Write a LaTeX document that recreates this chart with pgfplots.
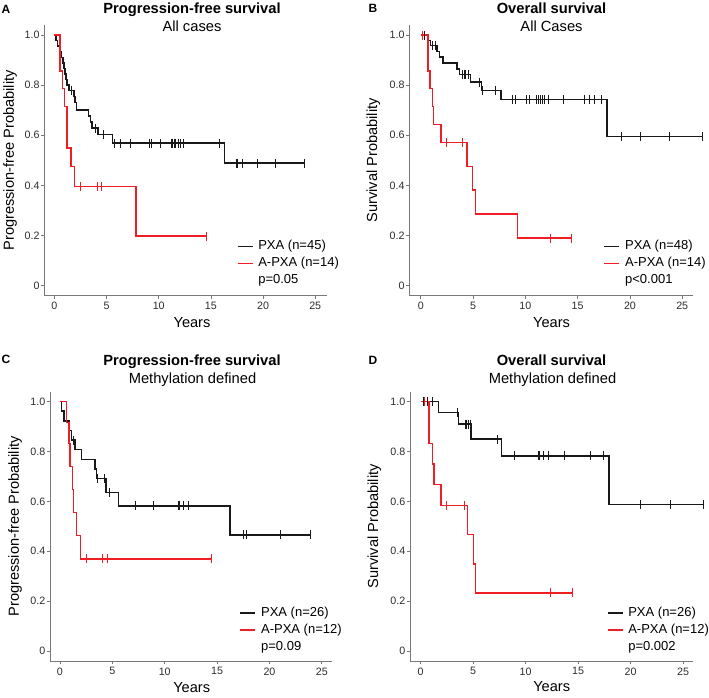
\documentclass[border=0pt]{standalone}
\usepackage{fontspec}
\setmainfont{Liberation Sans}
\usepackage{pgfplots}
\pgfplotsset{compat=1.18}
\definecolor{kmred}{RGB}{240,30,35}
\definecolor{kmblack}{RGB}{25,25,25}
\definecolor{axgray}{RGB}{120,120,120}
\definecolor{txtgray}{RGB}{45,45,45}
\pgfplotsset{
  kmaxis/.style={
    scale only axis,
    axis lines=left,
    axis line style={-, draw=axgray, line width=0.8bp},
    ymin=-0.04, ymax=1.04,
    ytick={0,0.2,0.4,0.6,0.8,1}, yticklabels={0,0.2,0.4,0.6,0.8,1.0},
    xtick={0,5,10,15,20,25},
    tick align=outside,
    major tick length=3bp,
    tick style={draw=axgray, line width=0.8bp},
    /pgf/number format/assume math mode=true,
    ticklabel style={font=\fontsize{10.7bp}{12bp}\selectfont, text=txtgray},
    yticklabel style={inner sep=1.5bp},
    label style={font=\fontsize{14.6bp}{16bp}\selectfont},
    xlabel={Years},
    clip=false,
    legend cell align=left,
    legend style={draw=none, fill=none, inner sep=0pt, font=\fontsize{13bp}{15bp}\selectfont, anchor=north west, row sep=5bp, nodes={inner sep=0pt, text height=9.5bp, text depth=2.5bp}},
    legend image code/.code={\draw[##1] (0bp,0bp) -- (15bp,0bp); \path (20bp,0bp);},
  },
  kmline/.style={const plot, line width=1.5bp, mark=none},
  kmcens/.style={only marks, mark=|, mark size=4.5bp, mark options={line width=1bp}, forget plot},
}
\begin{document}
\begin{tikzpicture}
\path[use as bounding box] (0,0) rectangle (709bp,-698bp);
% ---------------- A ----------------
\begin{axis}[kmaxis, at={(44.3bp,-295.7bp)}, anchor=south west,
  width=282.4bp, height=270.7bp, xmin=-0.97, xmax=26.1,
  ylabel={Progression-free Probability},
  ylabel style={at={(axis description cs:-0.108,0.5)}, anchor=base},
  xlabel style={at={(axis description cs:0.523,-0.118)}, anchor=base},
  legend style={at={(axis description cs:0.681,0.205)}}]
\addplot[kmline, kmblack] coordinates {(0,1) (0.15,0.978) (0.3,0.956) (0.55,0.933) (0.7,0.911) (0.8,0.889) (0.9,0.867) (1.0,0.844) (1.1,0.822) (1.2,0.80) (1.4,0.778) (1.88,0.755) (1.98,0.731) (2.1,0.70) (3.26,0.677) (3.45,0.653) (3.6,0.629) (4.2,0.603) (5.59,0.569) (16.3,0.489) (23.96,0.489)};
\addlegendentry{PXA (n=45)}
\addplot[kmcens, kmblack] coordinates {(1.62,0.778) (3.9,0.629) (4.7,0.603) (5.75,0.569) (6.29,0.569) (7.32,0.569) (9.1,0.569) (9.33,0.569) (10.19,0.569) (11.18,0.569) (11.3,0.569) (11.47,0.569) (11.63,0.569) (11.88,0.569) (12.04,0.569) (12.36,0.569) (15.78,0.569) (17.41,0.489) (17.54,0.489) (18.02,0.489) (19.46,0.489) (21.18,0.489) (23.96,0.489)};
\addplot[kmline, kmred] coordinates {(0,1) (0.55,0.857) (0.77,0.786) (0.96,0.714) (1.19,0.549) (1.57,0.475) (1.92,0.396) (7.83,0.198) (14.6,0.198)};
\addlegendentry{A-PXA (n=14)}
\addplot[kmcens, kmred] coordinates {(2.53,0.396) (4.12,0.396) (4.48,0.396) (14.6,0.198)};
\addlegendimage{empty legend}
\addlegendentry{p=0.05}
\end{axis}
% ---------------- B ----------------
\begin{axis}[kmaxis, at={(409.3bp,-295.7bp)}, anchor=south west,
  width=283.4bp, height=270.7bp, xmin=-1.1, xmax=26.0,
  ylabel={Survival Probability},
  ylabel style={at={(axis description cs:-0.1133,0.5)}, anchor=base},
  xlabel style={at={(axis description cs:0.502,-0.118)}, anchor=base},
  legend style={at={(axis description cs:0.685,0.205)}}]
\addplot[kmline, kmblack] coordinates {(0,1) (0.7,0.979) (0.92,0.958) (1.56,0.935) (1.78,0.912) (2.1,0.888) (3.46,0.865) (3.68,0.842) (4.73,0.812) (5.78,0.778) (7.69,0.743) (17.82,0.595) (26.9,0.595)};
\addlegendentry{PXA (n=48)}
\addplot[kmcens, kmblack] coordinates {(0.35,1) (1.14,0.958) (1.40,0.958) (3.94,0.842) (4.16,0.842) (4.32,0.842) (4.57,0.842) (5.59,0.812) (5.94,0.778) (7.18,0.778) (8.8,0.743) (9.02,0.743) (10.07,0.743) (10.36,0.743) (11.09,0.743) (11.25,0.743) (11.4,0.743) (11.63,0.743) (11.79,0.743) (12.2,0.743) (13.63,0.743) (15.69,0.743) (16.1,0.743) (16.58,0.743) (17.28,0.743) (19.19,0.595) (20.97,0.595) (23.76,0.595) (26.9,0.595)};
\addplot[kmline, kmred] coordinates {(0,1) (0.7,0.857) (0.89,0.786) (1.1,0.714) (1.21,0.643) (1.95,0.571) (4.42,0.476) (4.96,0.381) (5.21,0.286) (9.24,0.19) (14.42,0.19)};
\addlegendentry{A-PXA (n=14)}
\addplot[kmcens, kmred] coordinates {(0.13,1) (2.41,0.571) (4.0,0.571) (12.42,0.19) (14.42,0.19)};
\addlegendimage{empty legend}
\addlegendentry{p<0.001}
\end{axis}
% ---------------- C ----------------
\begin{axis}[kmaxis, at={(50bp,-661bp)}, anchor=south west,
  width=282.3bp, height=269.3bp, xmin=-0.95, xmax=26.0,
  ylabel={Progression-free Probability},
  ylabel style={at={(axis description cs:-0.1105,0.5)}, anchor=base},
  xlabel style={at={(axis description cs:0.502,-0.118)}, anchor=base},
  legend style={at={(axis description cs:0.671,0.201)}}]
\addplot[kmline, kmblack] coordinates {(0,1) (0.16,0.962) (0.38,0.923) (0.89,0.885) (1.11,0.846) (1.43,0.808) (2.07,0.769) (3.34,0.731) (3.5,0.692) (4.39,0.635) (5.57,0.582) (16.22,0.466) (23.92,0.466)};
\addlegendentry{PXA (n=26)}
\addplot[kmcens, kmblack] coordinates {(1.25,0.846) (3.59,0.692) (4.29,0.692) (4.77,0.635) (7.25,0.582) (8.97,0.582) (11.29,0.582) (11.45,0.582) (11.77,0.582) (12.31,0.582) (17.49,0.466) (17.81,0.466) (21.09,0.466) (23.92,0.466)};
\addplot[kmline, kmred] coordinates {(0,1) (0.64,0.917) (0.86,0.833) (0.95,0.741) (1.18,0.648) (1.27,0.556) (1.59,0.463) (1.97,0.370) (14.5,0.370)};
\addlegendentry{A-PXA (n=12)}
\addplot[kmcens, kmred] coordinates {(0.9,0.833) (2.54,0.37) (4.07,0.37) (4.52,0.37) (14.5,0.37)};
\addlegendimage{empty legend}
\addlegendentry{p=0.09}
\end{axis}
% ---------------- D ----------------
\begin{axis}[kmaxis, at={(410bp,-661bp)}, anchor=south west,
  width=283.3bp, height=269.3bp, xmin=-1.02, xmax=25.97,
  ylabel={Survival Probability},
  ylabel style={at={(axis description cs:-0.1123,0.5)}, anchor=base},
  xlabel style={at={(axis description cs:0.5,-0.115)}, anchor=base},
  legend style={at={(axis description cs:0.694,0.201)}}]
\addplot[kmline, kmblack] coordinates {(0,1) (1.68,0.957) (3.59,0.91) (4.79,0.85) (7.71,0.783) (17.93,0.587) (26.9,0.587)};
\addlegendentry{PXA (n=26)}
\addplot[kmcens, kmblack] coordinates {(0.25,1) (0.67,1) (1.11,1) (3.52,0.957) (4.22,0.91) (4.38,0.91) (4.55,0.91) (4.7,0.91) (7.3,0.85) (8.92,0.783) (11.2,0.783) (11.36,0.783) (11.68,0.783) (12.21,0.783) (13.67,0.783) (16.18,0.783) (17.39,0.783) (20.97,0.587) (23.83,0.587) (26.9,0.587)};
\addplot[kmline, kmred] coordinates {(0,1) (0.79,0.833) (1.14,0.75) (1.27,0.667) (1.94,0.583) (4.47,0.467) (5.01,0.35) (5.23,0.233) (14.44,0.233)};
\addlegendentry{A-PXA (n=12)}
\addplot[kmcens, kmred] coordinates {(0.35,1) (2.47,0.583) (4.16,0.583) (12.4,0.233) (14.44,0.233)};
\addlegendimage{empty legend}
\addlegendentry{p=0.002}
\end{axis}
% ---------------- titles ----------------
\begin{scope}[every node/.style={inner sep=0pt, anchor=base}]
\node[font=\fontsize{12bp}{14bp}\selectfont\bfseries] at (6bp,-13.3bp) {A};
\node[font=\fontsize{12bp}{14bp}\selectfont\bfseries] at (373bp,-12.8bp) {B};
\node[font=\fontsize{12bp}{14bp}\selectfont\bfseries] at (6bp,-363.8bp) {C};
\node[font=\fontsize{12bp}{14bp}\selectfont\bfseries] at (373bp,-364.3bp) {D};
\node[font=\fontsize{14.7bp}{16bp}\selectfont\bfseries] at (192bp,-13.5bp) {Progression-free survival};
\node[font=\fontsize{14.7bp}{16bp}\selectfont] at (192bp,-31.2bp) {All cases};
\node[font=\fontsize{14.7bp}{16bp}\selectfont\bfseries] at (551.5bp,-13.5bp) {Overall survival};
\node[font=\fontsize{14.7bp}{16bp}\selectfont] at (551.5bp,-31.2bp) {All Cases};
\node[font=\fontsize{14.7bp}{16bp}\selectfont\bfseries] at (192bp,-365.2bp) {Progression-free survival};
\node[font=\fontsize{14.7bp}{16bp}\selectfont] at (192.5bp,-383bp) {Methylation defined};
\node[font=\fontsize{14.7bp}{16bp}\selectfont\bfseries] at (551.5bp,-365.2bp) {Overall survival};
\node[font=\fontsize{14.7bp}{16bp}\selectfont] at (552.5bp,-383bp) {Methylation defined};
\end{scope}
\end{tikzpicture}
\end{document}
